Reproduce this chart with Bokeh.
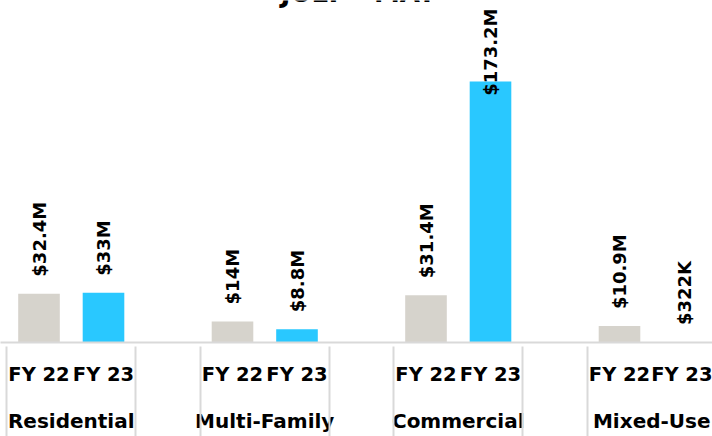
import numpy as np
from bokeh.plotting import figure
from bokeh.models import ColumnDataSource, FixedTicker, LinearAxis, Label
from bokeh.core.properties import value
from bokeh.embed import file_html
from bokeh.resources import INLINE

# ---- data ----
groups = ["Residential", "Multi-Family", "Commercial", "Mixed-Use"]
years = ["FY 22", "FY 23"]
fy22 = [32.4, 14.0, 31.4, 10.9]      # $M
fy23 = [33.0, 8.8, 173.2, 0.322]     # $M
title_text = "JULY \u2013 MAY"
colors = {"FY 22": "#d6d3cc", "FY 23": "#29c8ff"}

FONT = "DejaVu Sans"
GRID = "#d9d9d9"
W, H = 712, 436
FRAME_H = 342
PX_PER_M = 1.507
SLOT_PX = 64.5
X0_PX = 6.25

y_end = FRAME_H / PX_PER_M
x_start = -X0_PX / SLOT_PX
x_end = (W - X0_PX) / SLOT_PX

def fmt(v):
    if v >= 1:
        return "${:g}M".format(round(v, 1))
    return "${:g}K".format(round(v * 1000))

# positions: each group has 3 slots (FY22, FY23, blank)
xs, tops, cols, labels = [], [], [], []
for gi, g in enumerate(groups):
    for yi, (yr, vals) in enumerate(zip(years, [fy22, fy23])):
        xs.append(3 * gi + yi + 0.5)
        tops.append(vals[gi])
        cols.append(colors[yr])
        labels.append(fmt(vals[gi]))

p = figure(width=W, height=H, x_range=(x_start, x_end), y_range=(0, y_end),
           output_backend="svg", toolbar_location=None,
           min_border_left=0, min_border_right=0, min_border_top=0,
           min_border_bottom=H - FRAME_H)
p.outline_line_color = None
p.grid.visible = False
p.yaxis.visible = False
p.background_fill_color = "white"
p.border_fill_color = "white"

src = ColumnDataSource(dict(x=xs, top=tops, color=cols, label=labels))
p.vbar(x="x", top="top", bottom=0, width=0.645, fill_color="color",
       line_color=None, source=src)

# data labels (rotated)
LBL_SIZE = 18
PAD = 17
fit_x, fit_y, fit_t, cl_x, cl_t = [], [], [], [], []
for x, v, t in zip(xs, tops, labels):
    est_len = len(t) * 0.68 * LBL_SIZE
    if v * PX_PER_M + PAD + est_len > FRAME_H - 8:
        cl_x.append(x); cl_t.append(t)
    else:
        fit_x.append(x); fit_y.append(v); fit_t.append(t)

p.text(x=fit_x, y=fit_y, text=fit_t, angle=np.pi / 2, text_align="left",
       text_baseline="middle", y_offset=-PAD, text_font=value(FONT),
       text_font_style="bold", text_font_size=f"{LBL_SIZE}px", text_color="black")
p.text(x=cl_x, y=[y_end] * len(cl_x), text=cl_t, angle=np.pi / 2, text_align="right",
       text_baseline="middle", y_offset=8, text_font=value(FONT),
       text_font_style="bold", text_font_size=f"{LBL_SIZE}px", text_color="black")

def style_labels(ax, standoff, size):
    ax.major_tick_line_color = None
    ax.major_tick_out = 0
    ax.major_tick_in = 0
    ax.major_label_standoff = standoff
    ax.major_label_text_font = FONT
    ax.major_label_text_font_style = "bold"
    ax.major_label_text_font_size = size
    ax.major_label_text_color = "black"

# category axis (FY labels)
ax1 = p.xaxis[0]
ax1.ticker = FixedTicker(ticks=xs, minor_ticks=[])
ax1.major_label_overrides = {x: yr for x, yr in zip(xs, years * len(groups))}
ax1.axis_line_color = GRID
ax1.axis_line_width = 2
ax1.minor_tick_line_color = None
ax1.minor_tick_out = 0
ax1.minor_tick_in = 0
style_labels(ax1, 20, "19.5px")

# group axis
group_ticks = [3 * gi + 1.0 for gi in range(len(groups))]
ax2 = LinearAxis(ticker=FixedTicker(ticks=group_ticks, minor_ticks=[]),
                 major_label_overrides={x: g for x, g in zip(group_ticks, groups)})
ax2.axis_line_color = None
ax2.minor_tick_line_color = None
ax2.minor_tick_out = 0
ax2.minor_tick_in = 0
style_labels(ax2, 20, "20px")
p.add_layout(ax2, "below")

# separator axis: minor ticks drawn upward through both label rows
bounds = sorted(set([3 * gi + k for gi in range(len(groups)) for k in (0, 2, 3)]))
ax3 = LinearAxis(ticker=FixedTicker(ticks=[], minor_ticks=bounds))
ax3.axis_line_color = None
ax3.major_tick_line_color = None
ax3.major_tick_out = 0
ax3.major_tick_in = 0
ax3.major_label_standoff = 0
ax3.major_label_text_font_size = "0px"
ax3.minor_tick_line_color = GRID
ax3.minor_tick_line_width = 2
ax3.minor_tick_in = 89
ax3.minor_tick_out = 1
p.add_layout(ax3, "below")

# title (mostly outside the visible area, as in the reference)
p.add_layout(Label(x=(358 - X0_PX) / SLOT_PX, y=y_end, text=title_text,
                   text_align="center", text_baseline="alphabetic", y_offset=8,
                   text_font=FONT, text_font_style="bold", text_font_size="26px",
                   text_color="black"))

open("out.html", "w").write(file_html(p, INLINE))
